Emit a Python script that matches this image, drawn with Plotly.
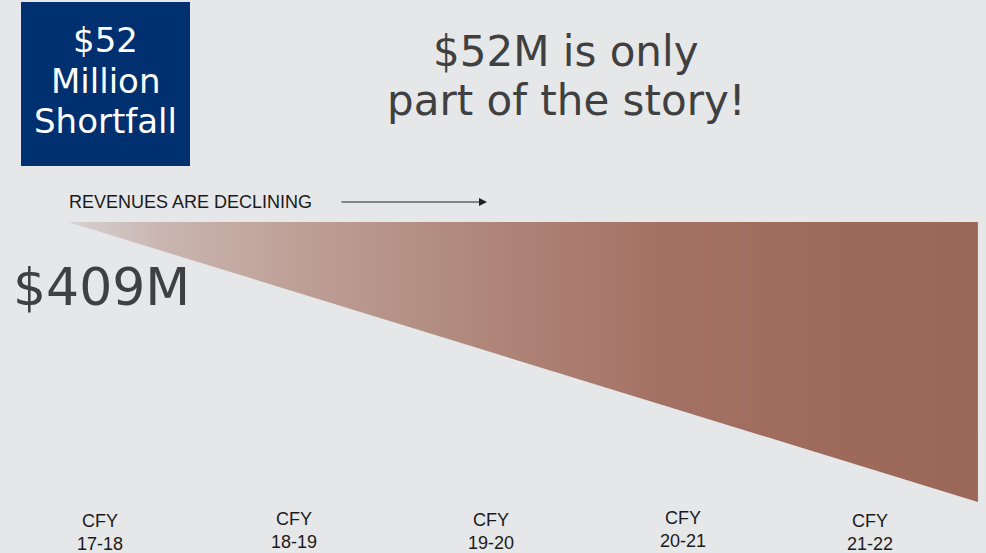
import plotly.graph_objects as go

# ---- data ----
categories = ["CFY<br>17-18", "CFY<br>18-19", "CFY<br>19-20", "CFY<br>20-21", "CFY<br>21-22"]
cat_pos = [0, 1.01, 2.03, 3.03, 4]
label_y = [99, 101, 100, 102, 99]

# revenue wedge outline (category units / revenue-gap units)
wedge_x = [-0.166, 4.561, 4.561, -0.166]
wedge_y = [409, 409, 129, 409]

box_lines = ["$52", "Million", "Shortfall"]
title_lines = ["$52M is only", "part of the story!"]
start_label = "$409M"
trend_label = "REVENUES ARE DECLINING"

BG = "#e6e7e9"
BROWN = "#9c695b"
BLUE = "#003070"
HEAD_FONT = "DejaVu Sans"
SMALL_FONT = "Liberation Sans Narrow, Arial Narrow, Liberation Sans"

fig = go.Figure()

fig.add_trace(go.Scatter(
    x=wedge_x, y=wedge_y, mode="lines", fill="toself",
    line=dict(width=0, color=BROWN),
    fillgradient=dict(
        type="horizontal",
        colorscale=[[0, "#d6d2d2"], [0.1, "#cab6b1"], [0.25, "#bea097"], [0.45, "#b0877b"],
                    [0.65, "#a47265"], [0.82, "#9e6a5c"], [1, "#9b6759"]],
    ),
    hoverinfo="skip", showlegend=False,
))

annotations = []
for c, x, y in zip(categories, cat_pos, label_y):
    annotations.append(dict(
        x=x, y=y, xref="x", yref="y", text=c, showarrow=False,
        font=dict(family=SMALL_FONT, size=18, color="#1a1a1a"),
        align="center", xanchor="center", yanchor="middle",
    ))

for txt, py in zip(box_lines, [40, 81, 121]):
    annotations.append(dict(x=105/986, y=1-py/553, xref="paper", yref="paper", text=txt,
                            showarrow=False, font=dict(family=HEAD_FONT, size=34, color="white"),
                            xanchor="center", yanchor="middle"))

for txt, py in zip(title_lines, [51, 101]):
    annotations.append(dict(x=566/986, y=1-py/553, xref="paper", yref="paper", text=txt,
                            showarrow=False, font=dict(family=HEAD_FONT, size=42, color="#404040"),
                            xanchor="center", yanchor="middle"))

annotations += [
    dict(x=101/986, y=1-287/553, xref="paper", yref="paper", text=start_label, showarrow=False,
         font=dict(family=HEAD_FONT, size=52, color="#404040"),
         xanchor="center", yanchor="middle"),
    dict(x=67/986, y=1-202/553, xref="paper", yref="paper", text=trend_label, showarrow=False,
         font=dict(family=SMALL_FONT, size=18, color="#1a1a1a"),
         xanchor="left", yanchor="middle"),
    dict(x=487/986, y=1-202/553, ax=-147, ay=0, xref="paper", yref="paper",
         axref="pixel", ayref="pixel", text="", showarrow=True, arrowhead=2, arrowsize=1.6,
         arrowwidth=1, arrowcolor="#222222"),
]

fig.update_layout(
    width=986, height=553,
    margin=dict(l=0, r=0, t=0, b=0),
    paper_bgcolor=BG, plot_bgcolor=BG,
    xaxis=dict(range=[-0.519, 4.603], visible=False, fixedrange=True),
    yaxis=dict(range=[78, 631], visible=False, fixedrange=True),
    shapes=[dict(type="rect", xref="paper", yref="paper", x0=21/986, x1=190/986,
                 y0=1-166/553, y1=1-2/553, fillcolor=BLUE, line=dict(width=0), layer="below")],
    annotations=annotations,
    showlegend=False,
)

fig.write_html("out.html", config={"displayModeBar": False},
               post_script="document.body.style.margin='0';document.body.style.background='" + BG + "';")
